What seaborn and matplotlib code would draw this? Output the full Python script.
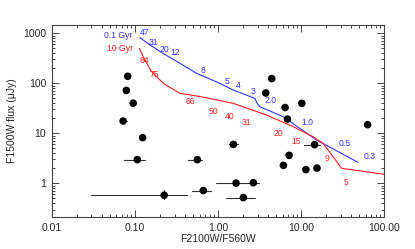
import matplotlib
matplotlib.use("Agg")
import matplotlib.pyplot as plt
import seaborn as sns
import numpy as np
import pandas as pd
from matplotlib.ticker import LogLocator, NullFormatter

# ---------------- data ----------------
pt_x = [0.082, 0.079, 0.0955, 0.0723, 0.124, 0.107, 0.225, 0.564, 0.666, 1.53,
        1.65, 2.66, 2.02, 6.12, 7.16, 11.4, 15.5, 14.5, 63.0, 4.43,
        3.75, 6.41, 10.2, 6.84]
pt_y = [138, 72, 40, 17.6, 8.2, 2.98, 0.58, 2.98, 0.72, 6.0,
        1.01, 1.03, 0.52, 2.29, 3.63, 1.88, 2.02, 5.94, 14.9, 124,
        64, 32.7, 39.8, 19.3]
# horizontal error bar extents (lo, hi); None = no bar
err_lo = [None, None, None, 0.066, None, 0.075, 0.030, 0.43, 0.49, 1.36,
          0.946, 2.30, 1.24, None, None, None, None, 10.8, None, None,
          None, None, None, None]
err_hi = [None, None, None, 0.080, None, 0.131, 0.42, 0.64, 0.83, 1.72,
          2.30, 3.10, 2.78, None, None, None, None, 16.7, None, None,
          None, None, None, None]
# vertical error bar for one point
yerr_idx = 6
yerr_lo, yerr_hi = 0.485, 0.73

young_x = [0.115, 0.152, 0.219, 0.348, 0.553, 1.05, 1.52, 2.77, 2.95, 3.19,
           6.08, 15.3, 48.4]
young_y = [817, 583, 394, 251, 158, 100, 73.5, 50, 40, 34,
           21.5, 7.35, 2.63]
old_x = [0.113, 0.132, 0.159, 0.219, 0.348, 0.606, 1.52, 3.84, 8.01, 13.9,
         18.4, 24.3, 30.6, 100.0]
old_y = [501, 292, 171, 100, 63, 54.5, 39.8, 23.2, 13.6, 8.55,
         6.3, 3.4, 2.0, 1.52]

young_labels = ["47", "31", "20", "12", "8", "5", "4", "3", "2.0", "1.0", "0.5", "0.3"]
young_lab_x = [0.130, 0.165, 0.228, 0.304, 0.653, 1.27, 1.75, 2.61, 4.29, 11.8, 33.5, 67]
young_lab_y = [1047, 661, 479, 417, 184, 108, 89.5, 68, 44.9, 16.6, 6.31, 3.52]
old_labels = ["84", "75", "66", "50", "40", "31", "20", "15", "9", "5"]
old_lab_x = [0.129, 0.170, 0.459, 0.875, 1.39, 2.21, 5.40, 8.81, 20.5, 35.1]
old_lab_y = [279, 153, 42.9, 27.9, 21.5, 16.6, 10.0, 7.0, 3.16, 1.05]

xticks = [0.01, 0.1, 1, 10, 100]
xticklabels = ["0.01", "0.10", "1.00", "10.00", "100.00"]
yticks = [1, 10, 100, 1000]
yticklabels = ["1", "10", "100", "1000"]

# ---------------- plot ----------------
sns.set_style("ticks")
plt.rcParams['font.family'] = ['Liberation Sans', 'DejaVu Sans']

fig = plt.figure(figsize=(4.15, 2.49), dpi=100)
ax = fig.add_axes([0.1246, 0.1273, 0.8014, 0.7735])

blue = "#3333ff"
red = "#ff2020"

young = pd.DataFrame({"x": young_x, "y": young_y})
old = pd.DataFrame({"x": old_x, "y": old_y})
sns.lineplot(data=young, x="x", y="y", sort=False, color=blue, lw=0.8, ax=ax)
sns.lineplot(data=old, x="x", y="y", sort=False, color=red, lw=0.8, ax=ax)

# error bars
for i in range(len(pt_x)):
    if err_lo[i] is not None:
        ax.plot([err_lo[i], err_hi[i]], [pt_y[i], pt_y[i]], color="#333333", lw=0.8, zorder=2)
ax.plot([pt_x[yerr_idx], pt_x[yerr_idx]], [yerr_lo, yerr_hi], color="#333333", lw=0.8, zorder=2)

pts = pd.DataFrame({"x": pt_x, "y": pt_y})
sns.scatterplot(data=pts, x="x", y="y", color="black", s=30, edgecolor="none", zorder=3, ax=ax)

for t, x, y in zip(young_labels, young_lab_x, young_lab_y):
    ax.text(x, y, t, color=blue, fontsize=6.2, ha="center", va="center")
for t, x, y in zip(old_labels, old_lab_x, old_lab_y):
    ax.text(x, y, t, color=red, fontsize=6.2, ha="center", va="center")
ax.text(0.0948, 895, "0.1 Gyr", color=blue, fontsize=6.2, ha="right", va="center")
ax.text(0.0948, 501, "10 Gyr", color=red, fontsize=6.2, ha="right", va="center")

ax.set_xscale("log")
ax.set_yscale("log")
ax.set_xlim(0.01, 100)
ax.set_ylim(0.21, 1480)
ax.set_xticks(xticks)
ax.set_xticklabels(xticklabels)
ax.set_yticks(yticks)
ax.set_yticklabels(yticklabels)
ax.xaxis.set_minor_locator(LogLocator(base=10, subs=np.arange(2, 10)))
ax.yaxis.set_minor_locator(LogLocator(base=10, subs=np.arange(2, 10)))
ax.xaxis.set_minor_formatter(NullFormatter())
ax.yaxis.set_minor_formatter(NullFormatter())
ax.tick_params(which="both", direction="in", top=True, right=True, color="#444444",
               labelsize=7.5, width=0.7, pad=4)
ax.tick_params(which="major", length=5)
ax.tick_params(which="minor", length=2.5)
for s in ax.spines.values():
    s.set_linewidth(0.8)
    s.set_color("#444444")

ax.set_xlabel("F2100W/F560W", fontsize=7.5, labelpad=1)
ax.set_ylabel("F1500W flux (\u03bcJy)", fontsize=7.5, labelpad=4)

fig.savefig("out.png", dpi=100, facecolor="white")
